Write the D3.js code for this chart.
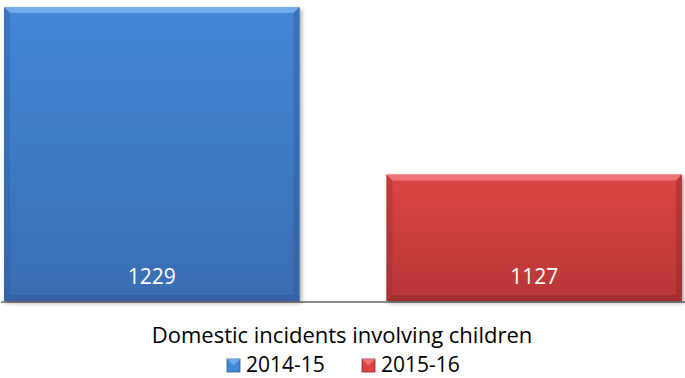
<!DOCTYPE html>
<html>
<head>
<meta charset="utf-8">
<script src="https://cdn.jsdelivr.net/npm/d3@7"></script>
<style>
  body { margin: 0; background: #fff; }
  text { font-family: "Open Sans", "Liberation Sans", sans-serif; }
</style>
</head>
<body>
<div id="chart"></div>
<script>
const categories = ['2014-15', '2015-16'];
const values = [1229, 1127];
const title = 'Domestic incidents involving children';

const w = 685;
const h = 378;
const baseline = 301;

// colours: [top, bottom, highlight, shade]
const palette = [
  ['#4286d6', '#3a6db3', '#7db3ee', '#2f5a96'],
  ['#dc4545', '#b73737', '#f27f7f', '#8f2a2a']
];

const svg = d3.select('#chart')
  .append('svg')
  .attr('width', w)
  .attr('height', h);

const defs = svg.append('defs');

palette.forEach((c, i) => {
  const g = defs.append('linearGradient')
    .attr('id', 'grad' + i)
    .attr('x1', 0).attr('y1', 0).attr('x2', 0).attr('y2', 1);
  g.append('stop').attr('offset', '0%').attr('stop-color', c[0]);
  g.append('stop').attr('offset', '100%').attr('stop-color', c[1]);
});

const shadow = defs.append('filter')
  .attr('id', 'shadow')
  .attr('x', '-5%').attr('y', '-5%').attr('width', '115%').attr('height', '115%');
shadow.append('feGaussianBlur').attr('in', 'SourceAlpha').attr('stdDeviation', 2);
shadow.append('feOffset').attr('dx', 2).attr('dy', 2).attr('result', 'blur');
shadow.append('feComponentTransfer').append('feFuncA').attr('type', 'linear').attr('slope', 0.35);
const merge = shadow.append('feMerge');
merge.append('feMergeNode');
merge.append('feMergeNode').attr('in', 'SourceGraphic');

const xScale = d3.scaleBand()
  .domain(categories)
  .range([4, 682])
  .paddingInner(0.227)
  .paddingOuter(0);

const yScale = d3.scaleLinear()
  .domain([1050, 1233.3])
  .range([baseline, 0]);

// axis line
svg.append('line')
  .attr('x1', 1).attr('x2', w)
  .attr('y1', baseline + 1).attr('y2', baseline + 1)
  .attr('stroke', '#8c8c8c')
  .attr('stroke-width', 2);

const bars = svg.selectAll('g.bar')
  .data(values)
  .enter()
  .append('g')
  .attr('class', 'bar');

bars.each(function (d, i) {
  const g = d3.select(this);
  const x = xScale(categories[i]);
  const bw = xScale.bandwidth();
  const y = yScale(d);
  const bh = baseline - y;
  const b = 6;
  const c = palette[i];

  g.append('rect')
    .attr('x', x).attr('y', y)
    .attr('width', bw).attr('height', bh)
    .attr('fill', 'url(#grad' + i + ')')
    .attr('filter', 'url(#shadow)');

  // top bevel
  g.append('polygon')
    .attr('points', [[x, y], [x + bw, y], [x + bw - b, y + b], [x + b, y + b]].join(' '))
    .attr('fill', c[2]).attr('opacity', 0.85);
  // left bevel
  g.append('polygon')
    .attr('points', [[x, y], [x + b, y + b], [x + b, y + bh - b], [x, y + bh]].join(' '))
    .attr('fill', c[3]).attr('opacity', 0.35);
  // right bevel
  g.append('polygon')
    .attr('points', [[x + bw, y], [x + bw - b, y + b], [x + bw - b, y + bh - b], [x + bw, y + bh]].join(' '))
    .attr('fill', c[3]).attr('opacity', 0.45);
  // bottom bevel
  g.append('polygon')
    .attr('points', [[x, y + bh], [x + bw, y + bh], [x + bw - b, y + bh - b], [x + b, y + bh - b]].join(' '))
    .attr('fill', c[3]).attr('opacity', 0.6);

  g.append('text')
    .attr('x', x + bw / 2)
    .attr('y', baseline - 17)
    .attr('text-anchor', 'middle')
    .attr('fill', '#fff')
    .attr('font-size', 21)
    .text(d);
});

// title
svg.append('text')
  .attr('x', 342)
  .attr('y', 343)
  .attr('text-anchor', 'middle')
  .attr('font-size', 22)
  .attr('fill', '#000')
  .text(title);

// legend
const legendX = [227, 362];
const legend = svg.selectAll('g.legend')
  .data(categories)
  .enter()
  .append('g')
  .attr('class', 'legend')
  .attr('transform', (d, i) => `translate(${legendX[i]}, 359)`);

legend.append('rect')
  .attr('width', 13).attr('height', 13)
  .attr('fill', (d, i) => palette[i][0])
  .attr('stroke', (d, i) => palette[i][3])
  .attr('stroke-width', 0.8);

legend.append('polygon')
  .attr('points', '0,0 13,0 6.5,6.5')
  .attr('fill', (d, i) => palette[i][2])
  .attr('opacity', 0.8);

legend.append('text')
  .attr('x', 19)
  .attr('y', 13)
  .attr('font-size', 21)
  .attr('fill', '#000')
  .text(d => d);
</script>
</body>
</html>
